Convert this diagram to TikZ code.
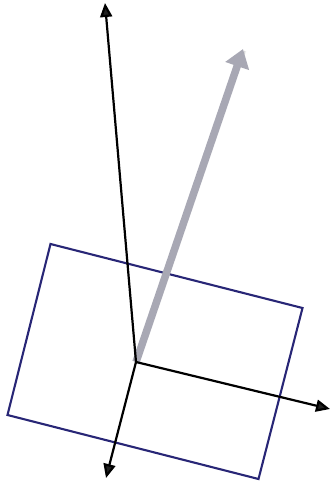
\documentclass[tikz,border=0pt]{standalone}
\usetikzlibrary{arrows.meta,shadows.blur}
\definecolor{rectblue}{RGB}{40,38,118}
\definecolor{vecgray}{RGB}{168,168,180}
\begin{document}
\begin{tikzpicture}[x=1pt,y=-1pt,
  axis/.style={line width=2.2pt,-{Triangle[length=14pt,width=12pt]}},
  frame/.style={draw=rectblue,line width=2.1pt,line join=miter},
  vec/.style={draw=vecgray,line width=7.5pt,-{Triangle[length=18pt,width=24pt]},blur shadow={shadow xshift=2pt,shadow yshift=-2pt,shadow blur steps=6,shadow opacity=25}}]
\useasboundingbox (0,0) rectangle (331,482);
\coordinate (tl) at (50.5,244);
\coordinate (tr) at (302.5,308);
\coordinate (br) at (258.5,479);
\coordinate (bl) at (7.5,415);
\coordinate (o) at (136,362);
\coordinate (up) at (105,3);
\coordinate (right) at (330,409);
\coordinate (down) at (106,478);
\coordinate (v) at (243,49);
\draw[frame] (tl) -- (tr) -- (br) -- (bl) -- cycle;
\draw[vec] (o) -- (v);
\draw[axis] (o) -- (up);
\draw[axis] (o) -- (right);
\draw[axis] (o) -- (down);
\end{tikzpicture}
\end{document}
